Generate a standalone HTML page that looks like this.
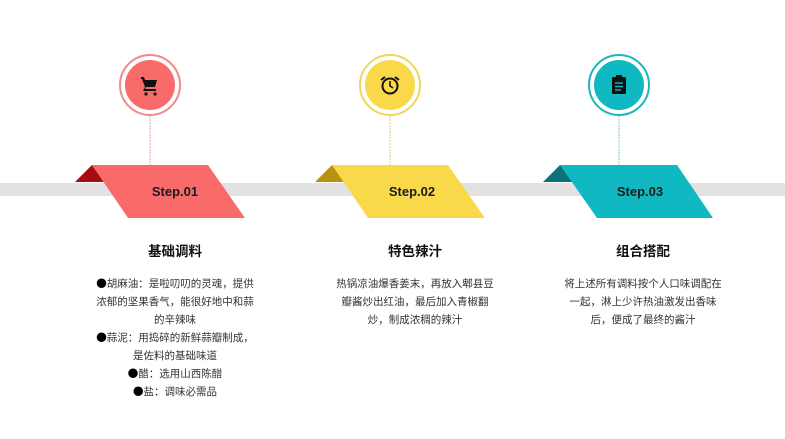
<!DOCTYPE html>
<html><head><meta charset="utf-8"><style>
body{margin:0;background:#fff;}
svg text{font-family:"Liberation Sans","Noto Sans CJK SC",sans-serif;}
.t{font-size:13.5px;font-weight:bold;fill:#111;text-anchor:middle}
.b{font-size:10.5px;fill:#333;text-anchor:middle}
.d{font-family:"Noto Sans CJK SC",sans-serif;fill:#000}
.s{font-size:13px;font-weight:bold;fill:#1a1a1a;text-anchor:middle}
</style></head><body>
<svg width="785" height="434" viewBox="0 0 785 434" xmlns="http://www.w3.org/2000/svg">
<rect x="0" y="183" width="785" height="13" fill="#e2e2e2"/>
<g>
<line x1="150" y1="116" x2="150" y2="165" stroke="#e8a0a0" stroke-width="1" stroke-dasharray="2,1"/>
<circle cx="150" cy="85" r="30" fill="#fff" stroke="#f08a8a" stroke-width="2"/>
<circle cx="150" cy="85" r="25" fill="#f96b6b"/>
<polygon points="75,182 92,165 104,182" fill="#a80c0c"/>
<polygon points="92,165 208,165 245,218 128,218" fill="#f96b6b"/>
<text class="s" x="175" y="196">Step.01</text>
<g fill="#111"><path d="M141,77h3l1,3h12l-2,7h-9l-1,2h11v2h-13l2-4-3-8h-1z"/><circle cx="146" cy="94" r="1.6"/><circle cx="155" cy="94" r="1.6"/></g>
</g>
<g>
<line x1="390" y1="116" x2="390" y2="165" stroke="#e6cf70" stroke-width="1" stroke-dasharray="2,1"/>
<circle cx="390" cy="85" r="30" fill="#fff" stroke="#f0d65a" stroke-width="2"/>
<circle cx="390" cy="85" r="25" fill="#f9d94a"/>
<polygon points="315,182 332,165 344,182" fill="#b8920e"/>
<polygon points="332,165 448,165 485,218 368,218" fill="#f9d94a"/>
<text class="s" x="412" y="196">Step.02</text>
<circle cx="390" cy="86" r="7.5" fill="none" stroke="#111" stroke-width="2"/>
<path d="M390,81v5l3,2" stroke="#111" stroke-width="1.6" fill="none"/>
<path d="M381,80l4-3M399,80l-4-3" stroke="#111" stroke-width="2"/>
</g>
<g>
<line x1="619" y1="116" x2="619" y2="165" stroke="#80c8cc" stroke-width="1" stroke-dasharray="2,1"/>
<circle cx="619" cy="85" r="30" fill="#fff" stroke="#1ab5bd" stroke-width="2"/>
<circle cx="619" cy="85" r="25" fill="#10b9c2"/>
<polygon points="543,182 560,165 573,182" fill="#0a7278"/>
<polygon points="560,165 677,165 713,218 597,218" fill="#10b9c2"/>
<text class="s" x="640" y="196">Step.03</text>
<rect x="612" y="77" width="14" height="17" rx="1.5" fill="#111"/>
<rect x="616" y="75" width="6" height="4" fill="#111"/>
<g stroke="#10b9c2" stroke-width="1.4"><line x1="615" y1="83" x2="623" y2="83"/><line x1="615" y1="86.5" x2="623" y2="86.5"/><line x1="615" y1="90" x2="621" y2="90"/></g>
</g>
<text class="t" x="175" y="256">基础调料</text>
<text class="b" x="175" y="287"><tspan class="d">●</tspan>胡麻油：是啦叨叨的灵魂，提供</text>
<text class="b" x="175" y="305">浓郁的坚果香气，能很好地中和蒜</text>
<text class="b" x="175" y="323">的辛辣味</text>
<text class="b" x="175" y="341"><tspan class="d">●</tspan>蒜泥：用捣碎的新鲜蒜瓣制成，</text>
<text class="b" x="175" y="359">是佐料的基础味道</text>
<text class="b" x="175" y="377"><tspan class="d">●</tspan>醋：选用山西陈醋</text>
<text class="b" x="175" y="395"><tspan class="d">●</tspan>盐：调味必需品</text>

<text class="t" x="415" y="256">特色辣汁</text>
<text class="b" x="415" y="287">热锅凉油爆香姜末，再放入郫县豆</text>
<text class="b" x="415" y="305">瓣酱炒出红油，最后加入青椒翻</text>
<text class="b" x="415" y="323">炒，制成浓稠的辣汁</text>

<text class="t" x="643" y="256">组合搭配</text>
<text class="b" x="643" y="287">将上述所有调料按个人口味调配在</text>
<text class="b" x="643" y="305">一起，淋上少许热油激发出香味</text>
<text class="b" x="643" y="323">后，便成了最终的酱汁</text>
</svg>
</body></html>
